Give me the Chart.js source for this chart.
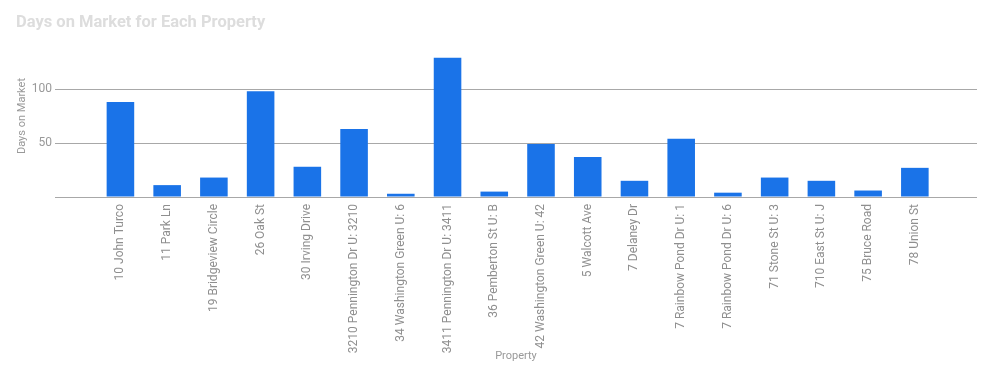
<!DOCTYPE html>
<html>
<head>
<meta charset="utf-8">
<script src="https://cdn.jsdelivr.net/npm/chart.js@4"></script>
<style>
html,body{margin:0;padding:0;background:#fff;}
#wrap{width:992px;height:379px;position:relative;}
</style>
</head>
<body>
<div id="wrap"><canvas id="c" width="992" height="379"></canvas></div>
<script>
const categories = [
  "10 John Turco", "11 Park Ln", "19 Bridgeview Circle", "26 Oak St", "30 Irving Drive",
  "3210 Pennington Dr U: 3210", "34 Washington Green U: 6", "3411 Pennington Dr U: 3411",
  "36 Pemberton St U: B", "42 Washington Green U: 42", "5 Walcott Ave", "7 Delaney Dr",
  "7 Rainbow Pond Dr U: 1", "7 Rainbow Pond Dr U: 6", "71 Stone St U: 3", "710 East St U: J",
  "75 Bruce Road", "78 Union St"
];
const daysOnMarket = [88, 11, 18, 98, 28, 63, 3, 129, 5, 49, 37, 15, 54, 4, 18, 15, 6, 27];
const yTickLabels = [50, 100];
const chartTitle = "Days on Market for Each Property";
const xTitle = "Property";
const yTitle = "Days on Market";

const points = categories.map((c, i) => ({x: i, y: daysOnMarket[i]}));
const FONT = "Roboto, 'Liberation Sans', Arial, sans-serif";
const GRID = "#a8a8a8";

new Chart(document.getElementById('c'), {
  type: 'bar',
  data: {
    datasets: [{
      label: yTitle,
      data: points,
      backgroundColor: '#1a73e8',
      borderWidth: 0,
      categoryPercentage: 1,
      barPercentage: 0.59
    }]
  },
  options: {
    responsive: false,
    animation: false,
    layout: { padding: { left: 16, right: 15, top: 0, bottom: 0 } },
    plugins: {
      legend: { display: false },
      tooltip: { enabled: false },
      title: {
        display: true,
        text: chartTitle,
        align: 'start',
        color: '#dddddd',
        font: { family: FONT, size: 16.5, weight: 'bold', lineHeight: '20px' },
        padding: { top: 13, bottom: 2 }
      }
    },
    scales: {
      x: {
        type: 'linear',
        offset: false,
        min: -1.40,
        max: 18.33,
        grid: { display: false, drawTicks: false, offset: false },
        border: { display: false },
        afterBuildTicks: (s) => { s.ticks = categories.map((_, i) => ({ value: i })); },
        afterFit: (s) => { s.height = 182; },
        ticks: {
          autoSkip: false,
          minRotation: 90,
          maxRotation: 90,
          padding: 7,
          color: '#8f8f8f',
          font: { family: FONT, size: 12 },
          callback: (v) => categories[v]
        },
        title: {
          display: true,
          text: xTitle,
          color: '#999999',
          font: { family: FONT, size: 11 },
          padding: { top: 0, bottom: 16 }
        }
      },
      y: {
        min: 0,
        max: 150,
        grid: {
          drawTicks: false,
          color: (ctx) => (ctx.tick && ctx.tick.value === 150) ? 'rgba(0,0,0,0)' : GRID,
          lineWidth: 1
        },
        border: { display: false },
        afterFit: (s) => { s.width = 39; },
        ticks: {
          stepSize: 50,
          padding: 3,
          color: '#999999',
          font: { family: FONT, size: 12 },
          callback: (v) => yTickLabels.includes(v) ? String(v) : ''
        },
        title: {
          display: true,
          text: yTitle,
          color: '#999999',
          font: { family: FONT, size: 11 },
          padding: { top: 0, bottom: 0 }
        }
      }
    }
  }
});
</script>
</body>
</html>
